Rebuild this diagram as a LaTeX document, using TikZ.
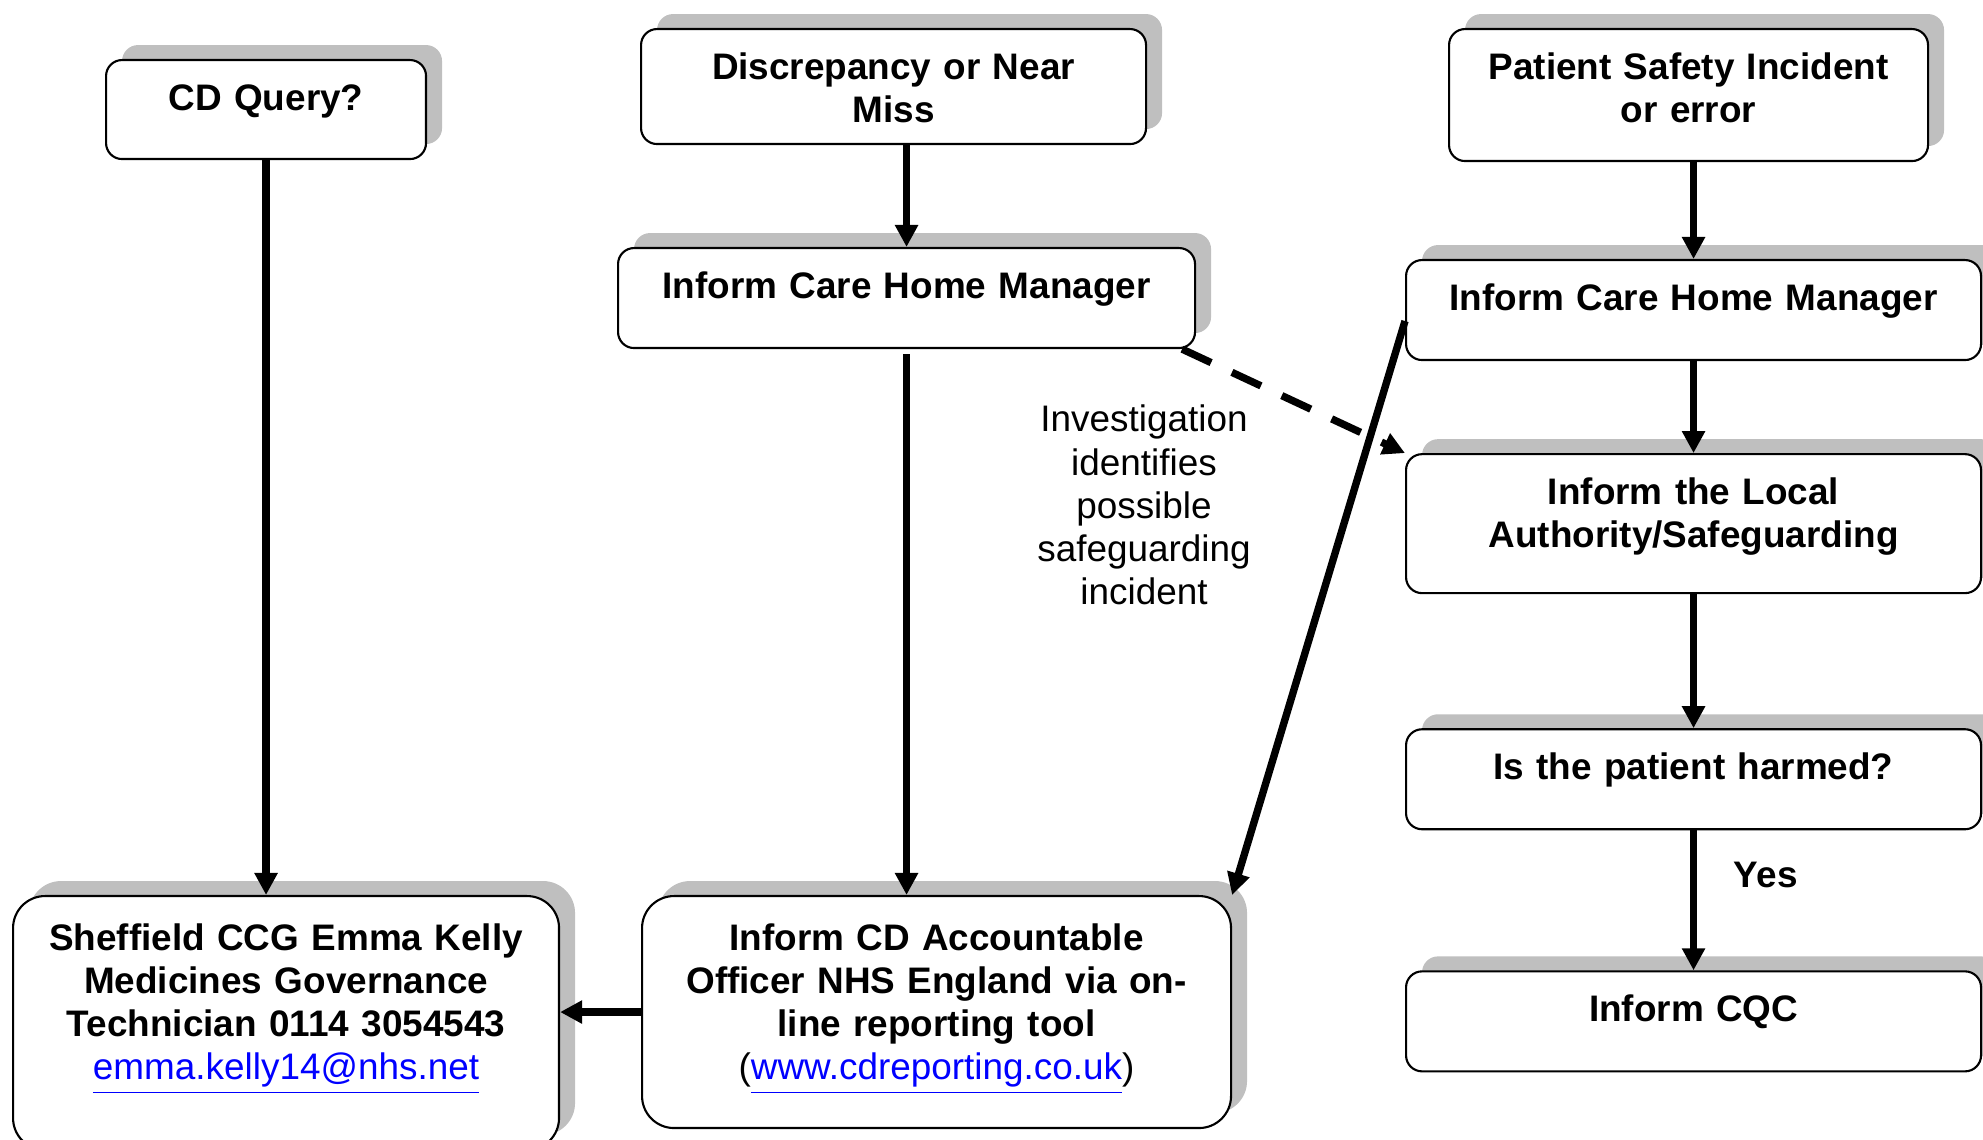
\documentclass[tikz,border=0pt]{standalone}
\usepackage{fontspec}
\setmainfont{Liberation Sans}
\usetikzlibrary{arrows.meta,positioning,shadows}

\newcommand{\chartfont}{\fontsize{10.5pt}{12.3pt}\selectfont}
\newcommand{\weblink}[1]{\textcolor{blue}{\underline{\mdseries #1}}}

\begin{document}
\begin{tikzpicture}[x=0.1mm,y=-0.1mm,font=\chartfont,
  box/.style={draw,line width=0.6pt,fill=white,rounded corners=1.6mm,anchor=north west,
    align=center,font=\chartfont\bfseries,inner xsep=1mm,inner ysep=0pt,text height=5mm,
    drop shadow={shadow xshift=1.6mm,shadow yshift=1.5mm,fill=black!25,opacity=1}},
  bigbox/.style={box,rounded corners=3.2mm,text height=5.4mm},
  flow/.style={line width=2.1pt,-{Triangle[length=2.2mm,width=2.2mm]}}]
\useasboundingbox (0,0) rectangle (1983,1140);

% left column
\node[box,text width=30mm,text depth=4.9mm] (cdq) at (105,59) {CD Query?};
\node[bigbox,text width=52.6mm,text depth=20mm] (sheff) at (12,895)
  {Sheffield CCG Emma Kelly\\Medicines Governance\\Technician 0114 3054543\\\weblink{emma.kelly14@nhs.net}};

% middle column
\node[box,text width=48.5mm,text depth=6.5mm] (discrep) at (640,28) {Discrepancy or Near\\Miss};
\node[box,text width=55.7mm,text depth=5mm] (ichmM) at (617,247) {Inform Care Home Manager};
\node[bigbox,text width=56.9mm,text depth=17.8mm] (informcd) at (641,895)
  {Inform CD Accountable\\Officer NHS England via on-\\line reporting tool\\{\mdseries(\weblink{www.cdreporting.co.uk})}};
\node[align=center,text width=24mm,anchor=base] (note) at (1144,432)
  {Investigation\\identifies\\possible\\safeguarding\\incident};

% right column
\node[box,text width=45.9mm,text depth=8.2mm] (ps) at (1448,28) {Patient Safety Incident\\or error};
\node[box,text width=55.5mm,text depth=5mm] (ichmR) at (1405,259) {Inform Care Home Manager};
\node[box,text width=55.5mm,text depth=8.9mm,below=9.2mm of ichmR] (localauth) {Inform the Local\\Authority/Safeguarding};
\node[box,text width=55.5mm,text depth=5mm,below=13.4mm of localauth] (harmed) {Is the patient harmed?};
\node[box,text width=55.5mm,text depth=5mm,below=14mm of harmed] (cqc) {Inform CQC};

% arrows
\draw[flow] (cdq.south) -- (cdq.south |- sheff.north);
\draw[flow] (ichmM.north |- discrep.south) -- (ichmM.north);
\draw[flow] ([yshift=-0.5mm]ichmM.south) -- (ichmM.south |- informcd.north);
\draw[flow] (informcd.west) -- (informcd.west -| sheff.east);
\draw[flow] (ichmR.north |- ps.south) -- (ichmR.north);
\draw[flow] (ichmR.south) -- (localauth.north);
\draw[flow] (localauth.south) -- (harmed.north);
\draw[flow] (harmed.south) -- node[pos=.32,right=2.5mm,font=\chartfont\bfseries] {Yes} (cqc.north);
\draw[flow,dash pattern=on 3.2mm off 2.3mm] ([xshift=-1.4mm]ichmM.south east) -- (localauth.north west);
\draw[flow] ([yshift=-1.1mm]ichmR.west) -- (informcd.north east);
\end{tikzpicture}
\end{document}
